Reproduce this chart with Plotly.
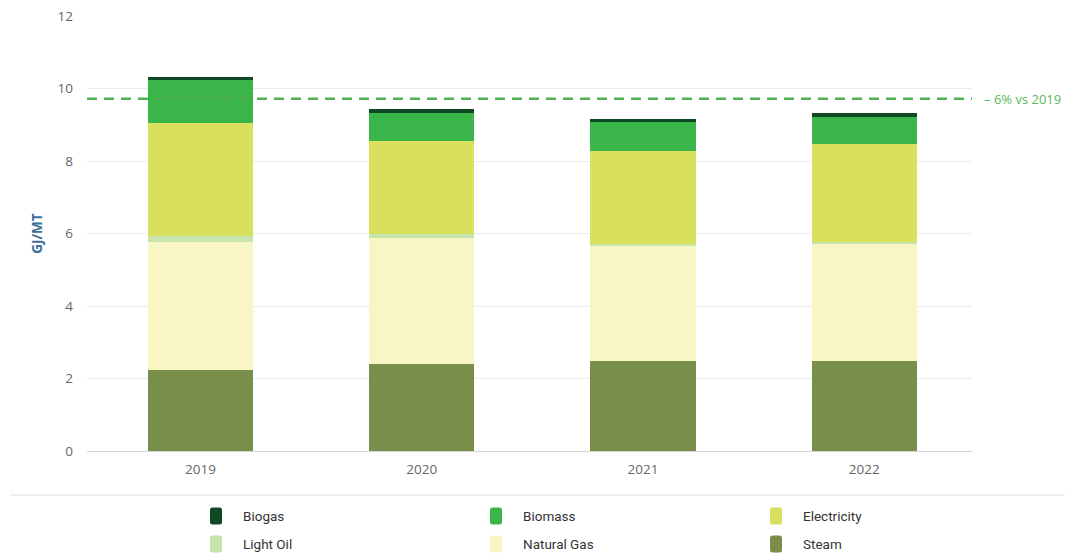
import plotly.graph_objects as go

# Energy intensity by source (GJ per metric ton)
years = ["2019", "2020", "2021", "2022"]
steam = [2.23, 2.40, 2.48, 2.48]
natural_gas = [3.54, 3.47, 3.18, 3.23]
light_oil = [0.16, 0.13, 0.05, 0.06]
electricity = [3.13, 2.55, 2.57, 2.69]
biomass = [1.17, 0.78, 0.80, 0.76]
biogas = [0.09, 0.10, 0.07, 0.11]

target_value = 9.72
target_label = "– 6% vs 2019"

y_ticks = [0, 2, 4, 6, 8, 10, 12]

# stacking order bottom -> top
series = [
    ("Steam", steam, "#7a8e4b"),
    ("Natural Gas", natural_gas, "#f8f6c5"),
    ("Light Oil", light_oil, "#c6e4ab"),
    ("Electricity", electricity, "#d8e05e"),
    ("Biomass", biomass, "#3ab54a"),
    ("Biogas", biogas, "#0f4a25"),
]
legend_order = ["Biogas", "Biomass", "Electricity", "Light Oil", "Natural Gas", "Steam"]

W, H = 1065, 556
ml, mr, mt, mb = 87, 93, 16, 105
pw = W - ml - mr
ph = H - mt - mb


def px_x(px):
    return (px - ml) / pw


def px_y(py):
    return (H - mb - py) / ph


def rounded_rect(x0, y0, x1, y1, r):
    """Rounded rectangle path in paper coords from pixel box."""
    pts = [
        f"M {px_x(x0 + r)} {px_y(y0)}",
        f"L {px_x(x1 - r)} {px_y(y0)}",
        f"Q {px_x(x1)} {px_y(y0)} {px_x(x1)} {px_y(y0 + r)}",
        f"L {px_x(x1)} {px_y(y1 - r)}",
        f"Q {px_x(x1)} {px_y(y1)} {px_x(x1 - r)} {px_y(y1)}",
        f"L {px_x(x0 + r)} {px_y(y1)}",
        f"Q {px_x(x0)} {px_y(y1)} {px_x(x0)} {px_y(y1 - r)}",
        f"L {px_x(x0)} {px_y(y0 + r)}",
        f"Q {px_x(x0)} {px_y(y0)} {px_x(x0 + r)} {px_y(y0)}",
        "Z",
    ]
    return " ".join(pts)


fig = go.Figure()
for name, vals, color in series:
    fig.add_trace(go.Bar(
        x=years, y=vals, name=name,
        marker=dict(color=color, line=dict(width=0)),
        width=0.475,
        showlegend=False,
    ))

fig.update_layout(
    width=W, height=H,
    barmode="stack",
    plot_bgcolor="white", paper_bgcolor="white",
    margin=dict(l=ml, r=mr, t=mt, b=mb, autoexpand=False),
    font=dict(family="Open Sans, sans-serif", color="#666666", size=13),
    showlegend=False,
)

fig.update_xaxes(
    range=[-0.513, 3.487],
    showgrid=False,
    showline=True, linecolor="#d6d6d6", linewidth=1,
    ticks="", ticklabelstandoff=6,
    tickfont=dict(size=13.5, color="#666666"),
    fixedrange=True,
)
fig.update_yaxes(
    range=[0, 12],
    tickvals=y_ticks,
    showgrid=True, gridcolor="#ebebeb", gridwidth=1,
    zeroline=False,
    ticks="", ticklabelstandoff=13,
    tickfont=dict(size=13.5, color="#666666"),
    title=dict(text="<b>GJ/MT</b>", font=dict(size=13.5, color="#3d6f97"), standoff=11),
    fixedrange=True,
)

# target line
fig.add_shape(
    type="line", xref="paper", yref="y",
    x0=0, x1=1, y0=target_value, y1=target_value,
    line=dict(color="#4caf50", width=2.5, dash="10px,7px"),
)
fig.add_annotation(
    xref="paper", yref="y", x=1, y=target_value,
    text=target_label, showarrow=False,
    xanchor="left", yanchor="middle", xshift=10,
    font=dict(size=13, color="#5cb85c", family="Open Sans, sans-serif"),
)

# separator above legend
fig.add_shape(
    type="line", xref="paper", yref="paper",
    x0=px_x(10), x1=px_x(W),
    y0=px_y(495), y1=px_y(495),
    line=dict(color="#ececec", width=1.5),
)

# legend: 3 columns x 2 rows
color_of = {name: color for name, _, color in series}
col_x = [210, 490, 770]
row_y = [516, 544]
for i, name in enumerate(legend_order):
    cx = col_x[i % 3]
    cy = row_y[i // 3]
    fig.add_shape(
        type="path", xref="paper", yref="paper",
        path=rounded_rect(cx, cy - 8.5, cx + 12, cy + 8.5, 2.5),
        fillcolor=color_of[name], line=dict(width=0),
    )
    fig.add_annotation(
        xref="paper", yref="paper", x=px_x(cx + 31), y=px_y(cy),
        text=name, showarrow=False, xanchor="left", yanchor="middle",
        font=dict(family="Roboto, sans-serif", size=13.5, color="#333333"),
    )

fig.write_html("out.html")
